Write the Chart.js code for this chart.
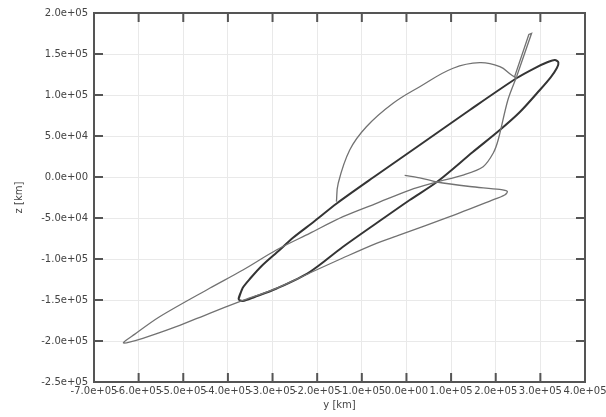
<!DOCTYPE html>
<html>
<head>
<meta charset="utf-8">
<script src="https://cdn.jsdelivr.net/npm/chart.js@4/dist/chart.umd.min.js"></script>
<style>
  html, body { margin: 0; padding: 0; background: #fff; }
  canvas { display: block; }
</style>
</head>
<body>
<canvas id="c" width="606" height="417"></canvas>
<script>
// Spacecraft trajectory projected on the y–z plane (km).

// Axis ranges and tick spacing
const yRange = [-700000, 400000];
const zRange = [-250000, 200000];
const yStep = 100000;
const zStep = 50000;

// Departure leg: out from the origin, swing to the far lobe and back, then the climb to the spike
const departY = [-4000, 30000, 68000, 142000, 209000, 226000, 220000, 187000, 97000, -15000,
  -67300, -142800, -216800, -291500, -373800, -441000, -515700, -590600, -633900, -609200,
  -553100, -441000, -366400, -291500, -216800, -142100, -67300, 7400, 68000, 126900,
  171800, 194200, 205400, 227200, 246700];
const departZ = [2000, -1000, -6100, -11600, -15200, -17700, -22000, -29300, -48400, -70700,
  -80900, -98800, -117100, -135700, -152100, -166200, -182600, -196700, -202400, -191900,
  -170400, -135700, -113400, -89000, -68700, -48400, -32100, -15900, -6100, 2400,
  12600, 28900, 45100, 93900, 122300];

// Short excursion at the top
const spikeY = [246700, 280300, 274200, 241700];
const spikeZ = [122300, 175200, 173800, 121300];

// Transfer arc joining the final orbit
const arcY = [246700, 235400, 209200, 164400, 104500, 29800, -30000, -89700, -127100, -152900, -156900];
const arcZ = [120700, 124400, 134500, 139400, 132600, 110100, 89900, 61300, 32900, -7700, -30100];

// Final orbit (closed loop)
const orbitY = [-376000, -367000, -349100, -324400, -284100, -254900, -205600, -156300, -66600, 29800,
  141900, 247300, 287700, 316800, 332500, 340400, 337000, 323500, 298800, 254100,
  209200, 148700, 68000, 7400, -66600, -142800, -216800, -290800, -340100,
  -367000, -376000, -367000];
const orbitZ = [-148800, -135400, -123200, -108500, -89000, -74400, -53700, -32300, 2400, 39000,
  81700, 120700, 132900, 140200, 142700, 139600, 132900, 121900, 106100, 79200,
  57300, 30500, -6100, -28000, -56100, -85400, -115900, -136000, -146300,
  -151200, -148800, -135400];

const pts = (ys, zs) => ys.map((v, i) => ({ x: v, y: zs[i] }));

// gnuplot-style exponent labels: 1.0e+05
function expLabel(v) {
  if (Math.abs(v) < 1e-6) v = 0;
  const [m, e] = Number(v).toExponential(1).split('e');
  return m + 'e' + e[0] + e.slice(1).padStart(2, '0');
}

const FONT = { family: 'DejaVu Sans', size: 10 };
const INK = '#444';

// Frame and inward tick marks on all four sides
const framePlugin = {
  id: 'frame',
  afterDatasetsDraw(chart) {
    const { ctx, chartArea: a, scales: { x, y } } = chart;
    const len = 9;
    ctx.save();
    ctx.strokeStyle = '#555';
    ctx.lineWidth = 2;
    ctx.beginPath();
    x.ticks.forEach(t => {
      const px = x.getPixelForValue(t.value);
      ctx.moveTo(px, a.bottom); ctx.lineTo(px, a.bottom - len);
      ctx.moveTo(px, a.top); ctx.lineTo(px, a.top + len);
    });
    y.ticks.forEach(t => {
      const py = y.getPixelForValue(t.value);
      ctx.moveTo(a.left, py); ctx.lineTo(a.left + len, py);
      ctx.moveTo(a.right, py); ctx.lineTo(a.right - len, py);
    });
    ctx.stroke();
    ctx.strokeRect(a.left, a.top, a.width, a.height);
    ctx.restore();
  }
};

const thin = { showLine: true, pointRadius: 0, borderColor: '#727272', borderWidth: 1.3, fill: false };

new Chart(document.getElementById('c'), {
  type: 'scatter',
  data: {
    datasets: [
      { ...thin, data: pts(departY, departZ), tension: 0.3 },
      { ...thin, data: pts(spikeY, spikeZ), tension: 0 },
      { ...thin, data: pts(arcY, arcZ), tension: 0.4 },
      { showLine: true, pointRadius: 0, borderColor: '#343434', borderWidth: 2, fill: false,
        data: pts(orbitY, orbitZ), tension: 0.3 }
    ]
  },
  options: {
    responsive: false,
    devicePixelRatio: 1,
    animation: false,
    layout: { padding: { left: 13, right: 21, top: 13, bottom: 6 } },
    plugins: { legend: { display: false }, tooltip: { enabled: false } },
    scales: {
      x: {
        type: 'linear',
        min: yRange[0], max: yRange[1],
        afterFit(s) { s.height = 29; s.paddingLeft = 0; s.paddingRight = 0; },
        border: { display: false },
        grid: { color: '#e9e9e9', lineWidth: 1, drawTicks: false },
        ticks: {
          stepSize: yStep, autoSkip: false, maxRotation: 0, minRotation: 0,
          padding: 3, font: FONT, color: INK, callback: v => expLabel(v)
        },
        title: { display: true, text: 'y [km]', font: FONT, color: INK, padding: 0 }
      },
      y: {
        type: 'linear',
        min: zRange[0], max: zRange[1],
        afterFit(s) { s.width = 81; },
        border: { display: false },
        grid: { color: '#e9e9e9', lineWidth: 1, drawTicks: false },
        ticks: {
          stepSize: zStep, autoSkip: false, padding: 6,
          font: FONT, color: INK, callback: v => expLabel(v)
        },
        title: { display: true, text: 'z [km]', font: FONT, color: INK, padding: 0 }
      }
    }
  },
  plugins: [framePlugin]
});
</script>
</body>
</html>
